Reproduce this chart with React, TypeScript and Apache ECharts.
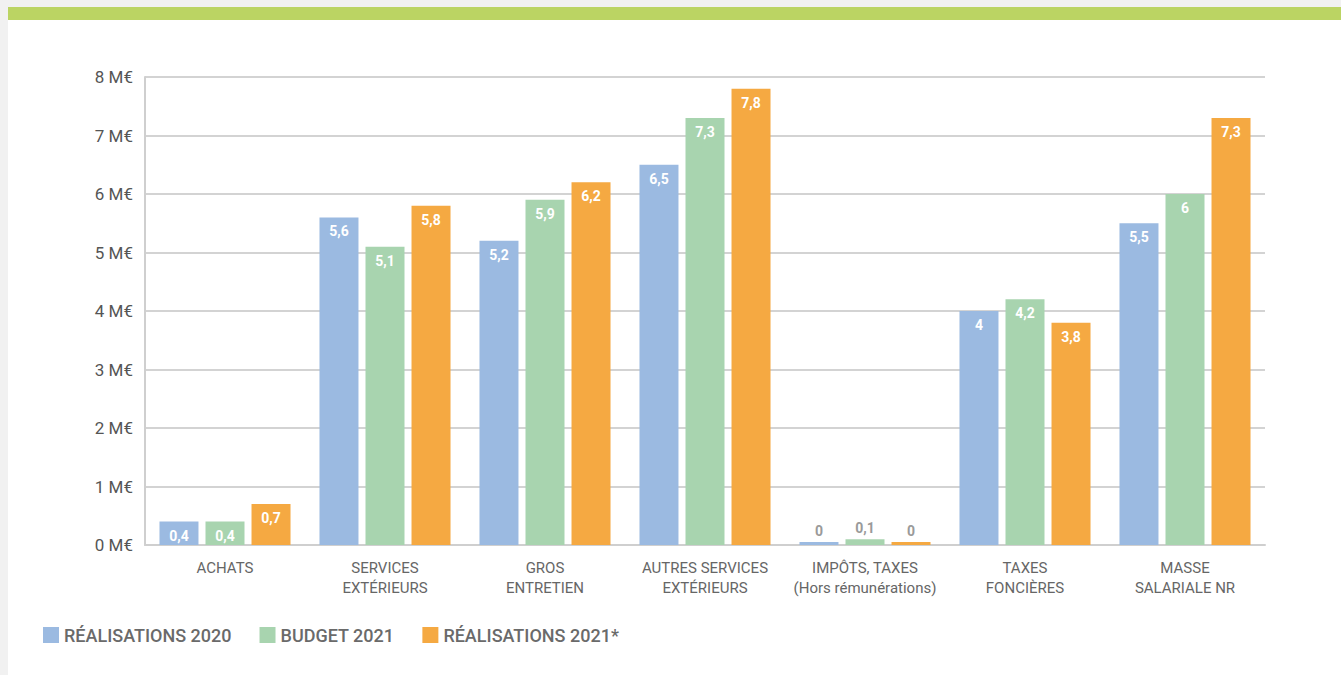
import React, { useEffect, useRef } from "react";
import * as echarts from "echarts";

const categories = [
  "ACHATS",
  "SERVICES\nEXTÉRIEURS",
  "GROS\nENTRETIEN",
  "AUTRES SERVICES\nEXTÉRIEURS",
  "IMPÔTS, TAXES\n(Hors rémunérations)",
  "TAXES\nFONCIÈRES",
  "MASSE\nSALARIALE NR",
];
const seriesNames = ["RÉALISATIONS 2020", "BUDGET 2021", "RÉALISATIONS 2021*"];
const realisations2020 = [0.4, 5.6, 5.2, 6.5, 0, 4, 5.5];
const budget2021 = [0.4, 5.1, 5.9, 7.3, 0.1, 4.2, 6];
const realisations2021 = [0.7, 5.8, 6.2, 7.8, 0, 3.8, 7.3];
const colors = ["#9bbae1", "#a8d4af", "#f5a942"];
const FONT = "Roboto, 'DejaVu Sans', sans-serif";

function makeData(values: number[]) {
  return values.map((v) => {
    if (v < 0.3) {
      return {
        value: v,
        label: { position: "top", color: "#9a9a9a", distance: 4 },
      };
    }
    return { value: v };
  });
}

export default function App() {
  const ref = useRef<HTMLDivElement>(null);
  useEffect(() => {
    if (!ref.current) return;
    const chart = echarts.init(ref.current, null, { renderer: "svg" });
    const allSeries = [realisations2020, budget2021, realisations2021];
    chart.setOption({
      animation: false,
      textStyle: { fontFamily: FONT },
      grid: { left: 137, right: 76, top: 57, bottom: 130 },
      legend: {
        left: 30,
        top: 601,
        itemWidth: 16,
        itemHeight: 16,
        itemGap: 28,
        icon: "rect",
        textStyle: { color: "#6a6a6a", fontSize: 18, fontWeight: 500, fontFamily: FONT },
        data: seriesNames,
      },
      xAxis: {
        type: "category",
        data: categories,
        axisLine: { lineStyle: { color: "#cfcfcf", width: 2 } },
        axisTick: { inside: true, length: 10, lineStyle: { color: "#cfcfcf", width: 2 } },
        axisLabel: {
          color: "#666",
          fontSize: 15,
          lineHeight: 20,
          margin: 13,
          interval: 0,
          fontFamily: FONT,
        },
      },
      yAxis: {
        type: "value",
        min: 0,
        max: 8,
        interval: 1,
        axisLine: { show: true, lineStyle: { color: "#cfcfcf", width: 2 } },
        axisLabel: {
          color: "#555",
          fontSize: 17,
          margin: 12,
          fontFamily: FONT,
          formatter: (v: number) => `${v} M€`,
        },
        splitLine: { lineStyle: { color: "#d3d3d3", width: 2 } },
      },
      series: allSeries.map((vals, i) => ({
        name: seriesNames[i],
        type: "bar",
        data: makeData(vals),
        barWidth: 39,
        barGap: "18%",
        barMinHeight: 3,
        itemStyle: { color: colors[i] },
        label: {
          show: true,
          position: "insideTop",
          distance: 7,
          color: "#ffffff",
          fontSize: 14,
          fontWeight: "bold",
          fontFamily: FONT,
          formatter: (p: any) => String(p.value).replace(".", ","),
        },
      })),
    });
    return () => chart.dispose();
  }, []);
  return (
    <div
      style={{
        position: "fixed",
        left: 0,
        top: 0,
        width: 1341,
        height: 675,
        background: "#f1f1f1",
        overflow: "hidden",
      }}
    >
      <div
        style={{
          position: "absolute",
          left: 8,
          top: 7,
          right: 0,
          height: 13,
          background: "#bbd463",
        }}
      />
      <div
        style={{
          position: "absolute",
          left: 8,
          top: 20,
          right: 0,
          bottom: 0,
          background: "#ffffff",
        }}
      >
        <div ref={ref} style={{ width: 1333, height: 655 }} />
      </div>
    </div>
  );
}
